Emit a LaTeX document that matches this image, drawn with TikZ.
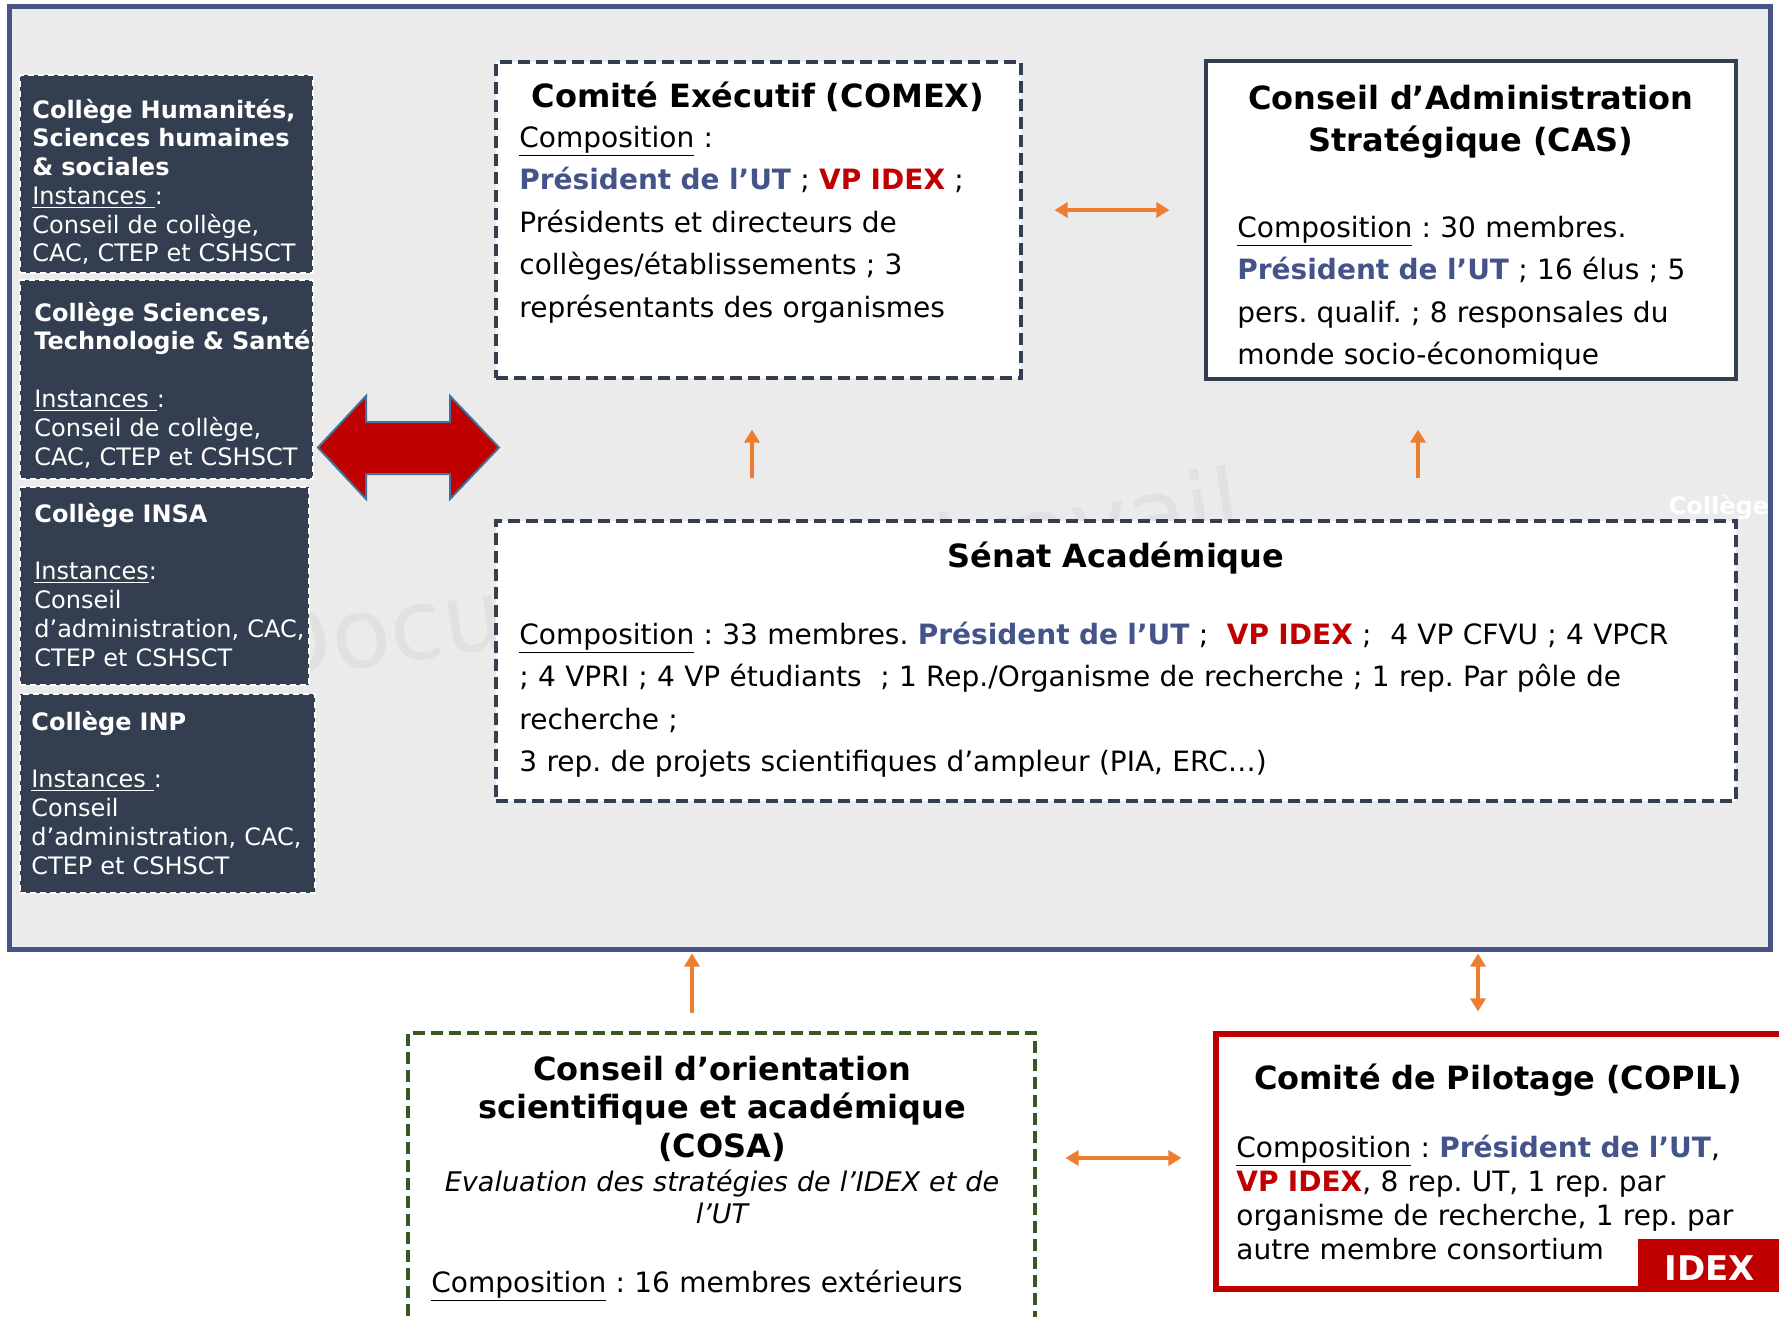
\documentclass[tikz,border=0pt]{standalone}
\usepackage{fontspec}
\setmainfont{DejaVu Sans}
\usetikzlibrary{arrows.meta}
\usetikzlibrary{fit}
\usepackage{xcolor}
\frenchspacing

\definecolor{fondgris}{HTML}{EBEBEB}
\definecolor{bleucadre}{HTML}{465585}
\definecolor{ardoise}{HTML}{333F50}
\definecolor{bleuUT}{HTML}{44548A}
\definecolor{rougeIDEX}{HTML}{C00000}
\definecolor{orangefl}{HTML}{ED7D31}
\definecolor{vertcosa}{HTML}{385723}
\definecolor{bordfleche}{HTML}{41719C}
\definecolor{filigrane}{HTML}{E1E1E1}

\newcommand{\presUT}{{\bfseries\color{bleuUT}Président de l’UT}}
\newcommand{\vpIDEX}{{\bfseries\color{rougeIDEX}VP IDEX}}

\begin{document}
\begin{tikzpicture}[x=0.5pt,y=-0.5pt,
  college/.style={fill=ardoise,draw=white,densely dashed,line width=0.8pt,inner sep=0},
  txtcollege/.style={anchor=base west,text=white,inner sep=0,text width=170pt,align=left,font=\fontsize{12}{14.4}\selectfont},
  boite/.style={fill=white,draw=ardoise,line width=1.6pt,inner sep=0},
  tirets/.style={dash pattern=on 6pt off 3pt},
  titre/.style={anchor=base,inner sep=0,text width=320pt,align=center,font=\bfseries\fontsize{16}{21}\selectfont},
  corps/.style={anchor=base west,inner sep=0,text width=320pt,align=left,font=\fontsize{14}{21.3}\selectfont},
  fleche/.style={draw=orangefl,line width=1.6pt},
  >={Triangle[width=7.5pt,length=6.5pt]}]
\useasboundingbox (0,0) rectangle (1779,1317);
\fill[white] (0,0) rectangle (1779,1317);
\clip (0,0) rectangle (1779,1317);

\node [fit={(9,6) (1770,949)},inner sep=0,draw=bleucadre,line width=2.5pt,fill=fondgris] (cadre) {};
\node [anchor=base west,rotate=8.5,text=filigrane,inner sep=0,font=\fontsize{48.5}{52}\selectfont] (filigrane) at (262,683) {Document de travail};

\node [college,fit={(20,75) (313,273)}] (humanites) {};
\node [college,fit={(20,280) (313,479)}] (sciences) {};
\node [college,fit={(20,487) (309,685)}] (insa) {};
\node [college,fit={(20,694) (315,893)}] (inp) {};

\node [txtcollege] (humanites-txt) at (32,118) {\textbf{Collège Humanités,}\\\textbf{Sciences humaines}\\\textbf{\& sociales}\\\underline{Instances\ }:\\Conseil de collège,\\CAC, CTEP et CSHSCT};
\node [txtcollege] (sciences-txt) at (34,321) {\textbf{Collège Sciences,}\\\textbf{Technologie \& Santé}\\[14.4pt]\underline{Instances\ }:\\Conseil de collège,\\CAC, CTEP et CSHSCT};
\node [txtcollege] (insa-txt) at (34,522) {\textbf{Collège INSA}\\[14.4pt]\underline{Instances}:\\Conseil\\d’administration, CAC,\\CTEP et CSHSCT};
\node [txtcollege] (inp-txt) at (31,730) {\textbf{Collège INP}\\[14.4pt]\underline{Instances\ }:\\Conseil\\d’administration, CAC,\\CTEP et CSHSCT};

\filldraw [fill=rougeIDEX,draw=bordfleche,line width=1pt] (318,447.5) -- (366,396) -- (366,422) -- (450,422) -- (450,396) -- (499,447.5) -- (450,499) -- (450,474) -- (366,474) -- (366,499) -- cycle;

\node [boite,tirets,fit={(496,62) (1021,378)}] (comex) {};
\node [titre] (comex-titre) at (758,107) {Comité Exécutif (COMEX)};
\node [corps] (comex-txt) at (519,147) {\underline{Composition} :\\\presUT{} ; \vpIDEX{} ;\\Présidents et directeurs de\\collèges/établissements ; 3\\représentants des organismes};

\node [boite,fit={(1206,61) (1736,379)}] (cas) {};
\node [titre] (cas-titre) at (1471,109) {Conseil d’Administration\\Stratégique (CAS)};
\node [corps] (cas-txt) at (1237,237) {\underline{Composition} : 30 membres.\\\presUT{} ; 16 élus ; 5\\pers. qualif. ; 8 responsales du\\monde socio-économique};

\node [boite,tirets,fit={(496,521) (1736,801)}] (senat) {};
\node [titre] (senat-titre) at (1116,567) {Sénat Académique};
\node [corps,text width=640pt] (senat-txt) at (519,644) {\underline{Composition} : 33 membres. \presUT{} ;\ \ \vpIDEX{} ;\ \ 4 VP CFVU ; 4 VPCR\\; 4 VPRI ; 4 VP étudiants\ \ ; 1 Rep./Organisme de recherche ; 1 rep. Par pôle de\\recherche ;\\3 rep. de projets scientifiques d’ampleur (PIA, ERC…)};

\node [text=white,anchor=base,inner sep=0,font=\bfseries\fontsize{12}{14}\selectfont] (college-bord) at (1719,514) {Collège};

\node [boite,draw=vertcosa,tirets,fit={(408,1033) (1035,1380)}] (cosa) {};
\node [titre,font=\bfseries\fontsize{16}{19.25}\selectfont] (cosa-titre) at (722,1080) {Conseil d’orientation\\scientifique et académique\\(COSA)};
\node [titre,font=\itshape\fontsize{13.5}{16}\selectfont] (cosa-role) at (722,1191) {Evaluation des stratégies de l’IDEX et de\\l’UT};
\node [corps] (cosa-txt) at (431,1292) {\underline{Composition} : 16 membres extérieurs};

\node [fill=white,draw=rougeIDEX,line width=2.6pt,inner sep=0,fit={(1216,1034) (1800,1289)}] (copil) {};
\node [titre] (copil-titre) at (1498,1089) {Comité de Pilotage (COPIL)};
\node [corps,font=\fontsize{14}{17}\selectfont] (copil-txt) at (1236,1157) {\underline{Composition} : \presUT,\\\vpIDEX, 8 rep. UT, 1 rep. par\\organisme de recherche, 1 rep. par\\autre membre consortium};
\node [fill=rougeIDEX,inner sep=0,fit={(1638,1239) (1800,1292)}] (idex) {};
\node [text=white,anchor=base,inner sep=0,font=\bfseries\fontsize{17}{20}\selectfont] (idex-txt) at (1710,1280) {IDEX};

\draw [fleche,<->,shorten <=16pt,shorten >=17.5pt] ([yshift=5pt]comex.east) -- ([yshift=5pt]cas.west);
\draw [fleche,->,shorten <=20.5pt,shorten >=25pt] ([xshift=-3.25pt]comex.south |- senat.north) -- ([xshift=-3.25pt]comex.south);
\draw [fleche,->,shorten <=20.5pt,shorten >=24.5pt] ([xshift=-26.5pt]cas.south |- senat.north) -- ([xshift=-26.5pt]cas.south);
\draw [fleche,->,shorten <=9pt,shorten >=1pt] ([xshift=-14.75pt]cosa.north) -- ([xshift=-14.75pt]cosa.north |- cadre.south);
\draw [fleche,<->,shorten <=10pt,shorten >=1pt] ([xshift=-15pt]copil.north) -- ([xshift=-15pt]copil.north |- cadre.south);
\draw [fleche,<->,shorten <=14.5pt,shorten >=16pt] ([yshift=1.75pt]cosa.east |- copil.west) -- ([yshift=1.75pt]copil.west);
\end{tikzpicture}
\end{document}
